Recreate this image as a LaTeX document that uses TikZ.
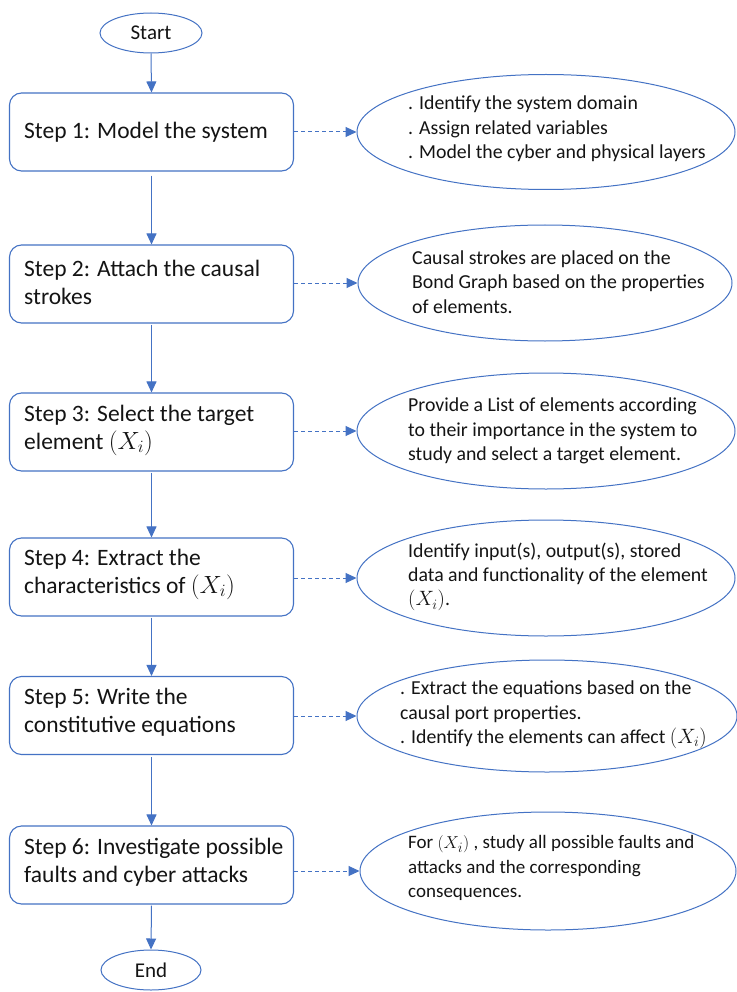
\documentclass[tikz,border=0pt]{standalone}
\usepackage{fontspec}
\setmainfont{Carlito}
\usetikzlibrary{shapes.geometric,arrows.meta}
\definecolor{flowblue}{HTML}{4472C4}
\definecolor{textgray}{HTML}{141414}
\tikzset{
  stepbox/.style={draw=flowblue, line width=1.1pt, rounded corners=12pt, minimum width=284pt, minimum height=78pt, inner sep=0pt},
  termnode/.style={draw=flowblue, line width=1pt, ellipse, minimum width=102pt, minimum height=40pt, inner sep=0pt, font=\fontsize{21}{25}\selectfont, text=textgray},
  infoell/.style={draw=flowblue, line width=1pt, ellipse, minimum width=378pt, minimum height=116pt, inner sep=0pt},
  steptext/.style={anchor=west, align=left, inner sep=0pt, font=\fontsize{23.5}{28}\selectfont, text=textgray},
  infotext/.style={anchor=west, align=left, inner sep=0pt, font=\fontsize{19.8}{24.3}\selectfont, text=textgray},
  flow/.style={draw=flowblue, line width=1pt, -{Triangle[length=11pt,width=10pt]}},
  dashflow/.style={draw=flowblue, line width=1pt, dash pattern=on 4pt off 3pt, -{Triangle[length=11pt,width=10pt]}}
}
\begin{document}
\begin{tikzpicture}[x=1pt,y=-1pt]
\useasboundingbox[fill=white] (0,0) rectangle (736,992);

% terminals
\node[termnode] (start) at (151,33) {Start};
\node[termnode, minimum width=100pt] (end) at (151,970) {End};

% step boxes
\node[stepbox] (b1) at (151.5,132) {};
\node[stepbox] (b2) at (151.5,284) {};
\node[stepbox] (b3) at (151.5,432) {};
\node[stepbox] (b4) at (151.5,577) {};
\node[stepbox] (b5) at (151.5,715.5) {};
\node[stepbox] (b6) at (151.5,865) {};

\node[steptext] (t1) at (24,132) {Step 1: Model the system};
\node[steptext] (t2) at (24,282) {Step 2: Attach the causal\\strokes};
\node[steptext] (t3) at (24,430) {Step 3: Select the target\\element $(X_i)$};
\node[steptext] (t4) at (24,574) {Step 4: Extract the\\characteristics of $(X_i)$};
\node[steptext] (t5) at (24,712) {Step 5: Write the\\constitutive equations};
\node[steptext] (t6) at (24,862) {Step 6: Investigate possible\\faults and cyber attacks};

% info ellipses
\node[infoell, minimum height=115pt] (e1) at (546,132) {};
\node[infoell, minimum width=374pt, minimum height=116pt] (e2) at (545,283) {};
\node[infoell, minimum height=116pt] (e3) at (546,431) {};
\node[infoell, minimum height=116pt] (e4) at (546,578) {};
\node[infoell, minimum width=380pt, minimum height=112pt] (e5) at (547,716) {};
\node[infoell, minimum width=376pt, minimum height=118pt] (e6) at (548,871) {};

\node[infotext] (i1) at (408,129) {. Identify the system domain\\. Assign related variables\\. Model the cyber and physical layers};
\node[infotext] (i2) at (412,282) {Causal strokes are placed on the\\Bond Graph based on the properties\\of elements.};
\node[infotext] (i3) at (408,431) {Provide a List of elements according\\to their importance in the system to\\study and select a target element.};
\node[infotext] (i4) at (408,577) {Identify input(s), output(s), stored\\data and functionality of the element\\$(X_i)$.};
\node[infotext] (i5) at (400,715) {. Extract the equations based on the\\causal port properties.\\. Identify the elements can affect $(X_i)$};
\node[infotext, font=\fontsize{19}{24.3}\selectfont] (i6) at (408,868) {For $(X_i)$ , study all possible faults and\\attacks and the corresponding\\consequences.};

% vertical flow
\draw[flow] (start.south) -- (b1.north);
\draw[flow, shorten <=4pt] (b1.south) -- (b2.north);
\draw[flow, shorten <=1pt] (b2.south) -- (b3.north);
\draw[flow, shorten <=1pt] (b3.south) -- (b4.north);
\draw[flow, shorten <=1pt] (b4.south) -- (b5.north);
\draw[flow, shorten <=2pt] (b5.south) -- (b6.north);
\draw[flow, shorten <=1pt] (b6.south) -- (end.north);

% dashed links
\draw[dashflow] (b1.east) -- (e1.west);
\draw[dashflow] (b2.east |- e2.west) -- (e2.west);
\draw[dashflow] (b3.east |- e3.west) -- (e3.west);
\draw[dashflow] (b4.east |- e4.west) -- (e4.west);
\draw[dashflow] (b5.east |- e5.west) -- (e5.west);
\draw[dashflow] (b6.east |- e6.west) -- (e6.west);
\end{tikzpicture}
\end{document}
